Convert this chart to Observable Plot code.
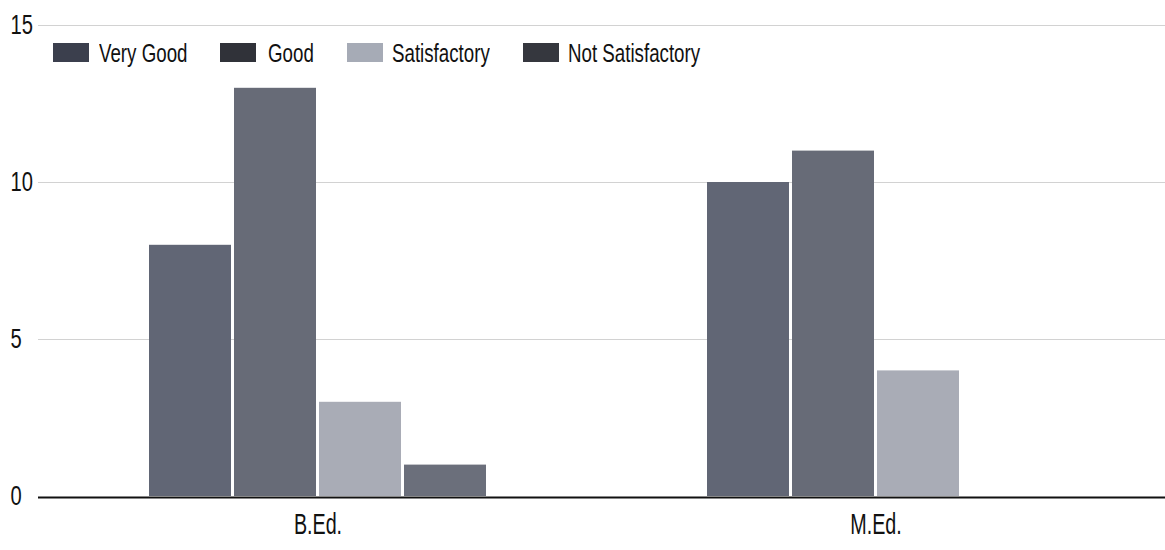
<!DOCTYPE html>
<html>
<head>
<meta charset="utf-8">
<script src="https://cdn.jsdelivr.net/npm/d3@7"></script>
<script src="https://cdn.jsdelivr.net/npm/@observablehq/plot@0.6"></script>
<style>
  html, body { margin: 0; padding: 0; background: #fff; }
  #wrap { position: relative; width: 1165px; height: 550px; font-family: "Liberation Sans", Arial, sans-serif; overflow: hidden; }
  #wrap svg { position: absolute; left: 0; top: 0; }
  .sw { position: absolute; top: 43px; width: 36px; height: 19px; }
  .lt { position: absolute; top: 38px; font-size: 26px; line-height: 30px; color: #111; white-space: nowrap; transform: scaleX(0.72); transform-origin: 0 50%; }
</style>
</head>
<body>
<div id="wrap"><div id="legend"></div></div>
<script>
const programs = ["B.Ed.", "M.Ed."];
const ratings = ["Very Good", "Good", "Satisfactory", "Not Satisfactory"];
const veryGood = [8, 10];
const good = [13, 11];
const satisfactory = [3, 4];
const notSatisfactory = [1, 0];
const yTicks = [0, 5, 10, 15];
const barColors = ["#616675", "#676b77", "#a9acb6", "#6b6f7b"];
const swatchColors = ["#3b3f4d", "#303239", "#a6abb6", "#35373e"];

const series = [veryGood, good, satisfactory, notSatisfactory];
const data = programs.flatMap((p, i) => ratings.map((r, j) => ({program: p, rating: r, value: series[j][i]})));

const font = "'Liberation Sans', Arial, sans-serif";
const common = {
  width: 1165,
  height: 550,
  marginLeft: 38,
  marginTop: 25,
  marginBottom: 54,
  style: {fontFamily: font, fontSize: "26px", color: "#111", background: "transparent"},
  y: {domain: [0, 15], axis: null, label: null}
};

// Background layer: grid, y labels, baseline (full width)
const back = Plot.plot({
  ...common,
  marginRight: 0,
  x: {axis: null},
  marks: [
    Plot.ruleY(yTicks.filter(d => d > 0), {stroke: "#d2d2d2", strokeWidth: 1}),
    Plot.ruleY([0], {stroke: "#111", strokeWidth: 2, dy: 1}),
    Plot.text(yTicks, {y: d => d, text: d => String(d), frameAnchor: "left", textAnchor: "start", dx: -28, fontSize: 28, fill: "#111"})
  ]
});

// Foreground layer: grouped bars
const front = Plot.plot({
  ...common,
  marginRight: 10,
  fx: {domain: programs, paddingInner: 0.392, paddingOuter: 0.196, axis: null, label: null},
  x: {domain: ratings, axis: null, paddingInner: 0.03, paddingOuter: 0},
  color: {domain: ratings, range: barColors},
  marks: [
    Plot.barY(data, {fx: "program", x: "rating", y: "value", fill: "rating"}),
    Plot.text(programs, {fx: d => d, text: d => d, frameAnchor: "bottom", dy: 37, fontSize: 29, fill: "#111"})
  ]
});

function condense(svg, s) {
  svg.querySelectorAll("text").forEach(t => {
    const x = +t.getAttribute("x") || 0;
    let tr = t.getAttribute("transform") || "";
    tr += x ? ` translate(${x},0) scale(${s},1) translate(${-x},0)` : ` scale(${s},1)`;
    t.setAttribute("transform", tr.trim());
  });
}
condense(back, 0.72);
condense(front, 0.68);

const wrap = document.getElementById("wrap");
wrap.prepend(front);
wrap.prepend(back);

const legend = document.getElementById("legend");
const swatchLeft = [53, 220, 347, 523];
const textLeft = [99, 268, 392, 568];
ratings.forEach((r, i) => {
  const sw = document.createElement("div");
  sw.className = "sw";
  sw.style.left = swatchLeft[i] + "px";
  sw.style.background = swatchColors[i];
  const t = document.createElement("div");
  t.className = "lt";
  t.style.left = textLeft[i] + "px";
  t.textContent = r;
  legend.append(sw, t);
});
</script>
</body>
</html>
